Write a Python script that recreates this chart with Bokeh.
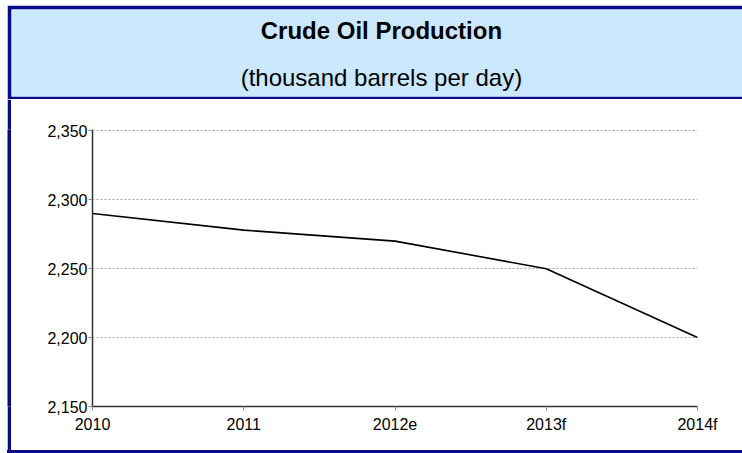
from bokeh.plotting import figure
from bokeh.layouts import column, row
from bokeh.models import Range1d, FixedTicker, NumeralTickFormatter, ColumnDataSource, Spacer
from bokeh.core.properties import value
from bokeh.embed import file_html
from bokeh.resources import INLINE
from bokeh.core.validation import silence
from bokeh.core.validation.warnings import MISSING_RENDERERS

silence(MISSING_RENDERERS, True)

# ---- data ----
categories = ["2010", "2011", "2012e", "2013f", "2014f"]
production = [2290, 2278, 2270, 2250, 2200]
y_ticks = [2150, 2200, 2250, 2300, 2350]
title_text = "Crude Oil Production"
subtitle_text = "(thousand barrels per day)"

NAVY = "#0b0b8a"
BAND = "#cce8ff"
FONT = "Liberation Sans"
TICK_FONT = "Liberation Sans"

OFF_X, OFF_Y = 7, 5
W, H = 742 - OFF_X, 453 - OFF_Y
HEADER_H = 94
BOTTOM_H = 3
LEFT_W = 4
PLOT_H = H - HEADER_H - BOTTOM_H


def strip(w, h):
    s = figure(width=w, height=h, output_backend="svg", toolbar_location=None,
               x_axis_location=None, y_axis_location=None,
               min_border=0, outline_line_color=None,
               background_fill_color=NAVY, border_fill_color=NAVY)
    s.grid.visible = False
    return s


# ---- header ----
hdr = figure(width=W, height=HEADER_H, output_backend="svg", toolbar_location=None,
             x_axis_location=None, y_axis_location=None,
             x_range=Range1d(0, 1), y_range=Range1d(0, 1),
             min_border_top=4, min_border_left=4, min_border_bottom=3, min_border_right=0,
             outline_line_color=None,
             background_fill_color=BAND, border_fill_color=NAVY)
hdr.grid.visible = False
hsrc = ColumnDataSource(dict(x=[0.506, 0.506], y=[0.759, 0.218],
                             t=[title_text, subtitle_text],
                             st=["bold", "normal"]))
hdr.text(x="x", y="y", text="t", source=hsrc, text_align="center",
         text_baseline="middle", text_font=value(FONT), text_font_size="24px",
         text_font_style="st", text_color="black")

# ---- main plot ----
xs = list(range(len(categories)))
p = figure(width=W - LEFT_W, height=PLOT_H, output_backend="svg", toolbar_location=None,
           x_range=Range1d(0, len(categories) - 1),
           y_range=Range1d(y_ticks[0], y_ticks[-1] + 1),
           min_border_left=81, min_border_right=45, min_border_top=30, min_border_bottom=44,
           outline_line_color=None, background_fill_color="white", border_fill_color="white")

p.line(xs, production, line_color="black", line_width=1.6)

p.xaxis.ticker = FixedTicker(ticks=xs)
p.xaxis.major_label_overrides = {i: c for i, c in enumerate(categories)}
p.yaxis.ticker = FixedTicker(ticks=y_ticks)
p.yaxis.formatter = NumeralTickFormatter(format="0,0")

for ax in (p.xaxis, p.yaxis):
    ax.axis_line_color = "#333333"
    ax.axis_line_width = 1.5
    ax.major_tick_line_color = "#888888"
    ax.major_tick_in = 0
    ax.major_tick_out = 4
    ax.minor_tick_line_color = None
    ax.major_label_text_font = TICK_FONT
    ax.major_label_text_font_size = "16px"
    ax.major_label_text_color = "black"
p.yaxis.major_label_standoff = 1
p.xaxis.major_label_standoff = 5

p.xgrid.visible = False
p.ygrid.grid_line_color = "#aaaaaa"
p.ygrid.grid_line_dash = "2 2"
p.ygrid.grid_line_width = 1

bottom = Spacer(width=W, height=BOTTOM_H, styles={"background-color": NAVY})
inner = column(hdr, row(strip(LEFT_W, PLOT_H), p), bottom)
layout = column(Spacer(width=742, height=OFF_Y), row(Spacer(width=OFF_X, height=H), inner))

open("out.html", "w").write(file_html(layout, INLINE))
